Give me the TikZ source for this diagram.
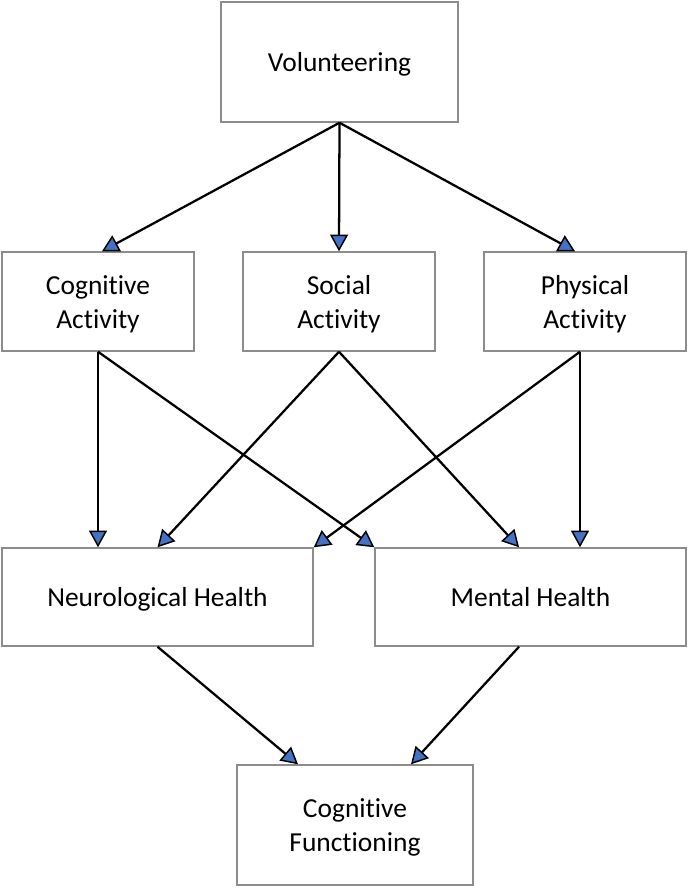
\documentclass[tikz,border=0pt]{standalone}
\usepackage{fontspec}
\setmainfont{Carlito}[Ligatures=NoCommon]
\usetikzlibrary{arrows.meta}
\definecolor{boxgray}{HTML}{8C8C8C}
\definecolor{tipblue}{HTML}{4472C4}
\newcommand\topstrut{\vrule width 0pt height 22.3pt depth 7.65pt\relax}
\begin{document}
\begin{tikzpicture}[x=0.75pt,y=-0.75pt,
  box/.style={draw=boxgray,line width=1.1pt,fill=white,align=center,inner sep=0pt,
    font=\fontsize{20.6}{25.5}\selectfont},
  conn/.style={line width=1.7pt,draw=black,
    -{Triangle[length=12.5pt,width=13.5pt,fill=tipblue,line width=1.1pt]}}]
\useasboundingbox (0,0) rectangle (688,889);
\node[box,minimum width=237*0.75pt,minimum height=120*0.75pt] (vol) at (339.5,62) {\topstrut Volunteering};
\node[box,minimum width=192*0.75pt,minimum height=99*0.75pt] (cog) at (98,301.5) {\topstrut Cognitive\\\strut Activity};
\node[box,minimum width=192*0.75pt,minimum height=99*0.75pt] (soc) at (339,301.5) {\topstrut Social\\\strut Activity};
\node[box,minimum width=202*0.75pt,minimum height=99*0.75pt] (phy) at (585,301.5) {\topstrut Physical\\\strut Activity};
\node[box,minimum width=311*0.75pt,minimum height=98*0.75pt] (neu) at (157.5,597) {\topstrut Neurological Health};
\node[box,minimum width=311*0.75pt,minimum height=98*0.75pt] (men) at (530.5,597) {\topstrut Mental Health};
\node[box,minimum width=236*0.75pt,minimum height=120*0.75pt] (cf) at (355,825) {\topstrut Cognitive\\\strut Functioning};
\coordinate (cogS) at (cog.south);
\coordinate (socS) at (soc.south);
\coordinate (phyS) at ([xshift=-3.75pt]phy.south);
\coordinate (neuS) at (neu.south);
\coordinate (menS) at ([xshift=-8.6pt]men.south);
\draw[conn] (vol.south) -- ([xshift=3pt]cog.north);
\draw[conn] (vol.south) -- (soc.north);
\draw[conn] (vol.south) -- ([xshift=-7.5pt]phy.north);
\draw[conn] (cogS) -- (cogS |- neu.north);
\draw[conn] (cogS) -- (men.north west);
\draw[conn] (socS) -- (neu.north);
\draw[conn] (socS) -- ([xshift=-8.6pt]men.north);
\draw[conn] (phyS) -- (neu.north east);
\draw[conn] (phyS) -- (phyS |- men.north);
\draw[conn] (neuS) -- ([xshift=-42.75pt]cf.north);
\draw[conn] (menS) -- ([xshift=42pt]cf.north);
\end{tikzpicture}
\end{document}
